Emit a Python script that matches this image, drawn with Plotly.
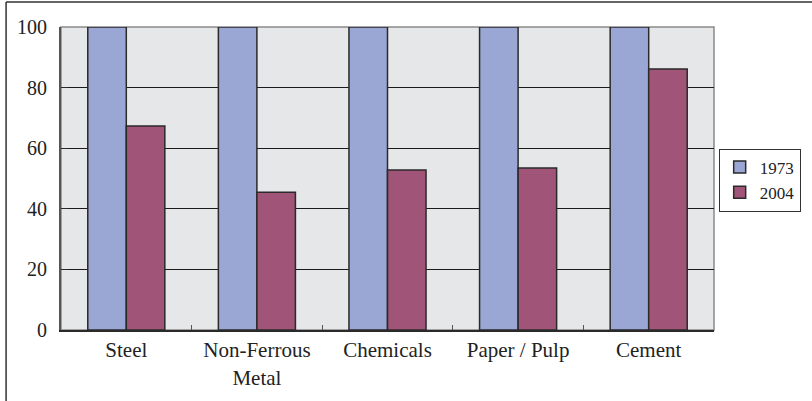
import plotly.graph_objects as go

# Energy intensity index by industry (1973 = 100)
categories = ["Steel", "Non-Ferrous<br>Metal", "Chemicals", "Paper / Pulp", "Cement"]
values_1973 = [100, 100, 100, 100, 100]
values_2004 = [67.3, 45.5, 52.8, 53.5, 86.1]
y_ticks = [0, 20, 40, 60, 80, 100]

FONT = "Liberation Serif"
OUTLINE = "#2a2a2a"

fig = go.Figure()
fig.add_trace(go.Bar(
    name="1973", x=categories, y=values_1973,
    marker=dict(color="#9aa6d4", line=dict(color=OUTLINE, width=1.5)),
))
fig.add_trace(go.Bar(
    name="2004", x=categories, y=values_2004,
    marker=dict(color="#a05478", line=dict(color=OUTLINE, width=1.5)),
))

# plot-area frame (grey top/right edge)
fig.add_shape(type="rect", xref="paper", yref="paper", x0=0, x1=1, y0=0, y1=1,
              line=dict(color="#8a8a8a", width=1.5), layer="between")
# outer figure border
fig.add_shape(type="line", xref="paper", yref="paper",
              x0=-0.0841, x1=1.5, y0=1.0825, y1=1.0825,
              line=dict(color="#333333", width=1.5))
fig.add_shape(type="line", xref="paper", yref="paper",
              x0=-0.0841, x1=-0.0841, y0=1.0825, y1=-0.25,
              line=dict(color="#333333", width=1.5))

fig.update_layout(
    width=812, height=401,
    margin=dict(l=61, r=97, t=27, b=71),
    paper_bgcolor="white",
    plot_bgcolor="#e6e7e9",
    barmode="group",
    bargap=0.41,
    bargroupgap=0,
    font=dict(family=FONT, size=21, color="#222222"),
    legend=dict(
        x=1.131, y=0.495, xanchor="right", yanchor="middle",
        bgcolor="white", bordercolor="#333333", borderwidth=1,
        font=dict(family=FONT, size=17, color="#222222"),
        itemwidth=30, tracegroupgap=4,
    ),
    showlegend=True,
)
fig.update_xaxes(
    showline=True, linecolor=OUTLINE, linewidth=2,
    ticks="inside", tickson="boundaries", ticklen=5, tickcolor="#555555",
    showgrid=False,
    tickfont=dict(family=FONT, size=21, color="#222222"),
)
fig.update_yaxes(
    range=[0, 100], tickvals=y_ticks,
    showline=True, linecolor="#555555", linewidth=2,
    ticks="inside", ticklen=7, tickcolor=OUTLINE,
    showgrid=True, gridcolor="#1a1a1a", gridwidth=1,
    zeroline=False,
    ticklabelstandoff=8,
    tickfont=dict(family=FONT, size=20, color="#222222"),
)

fig.write_html("out.html")
